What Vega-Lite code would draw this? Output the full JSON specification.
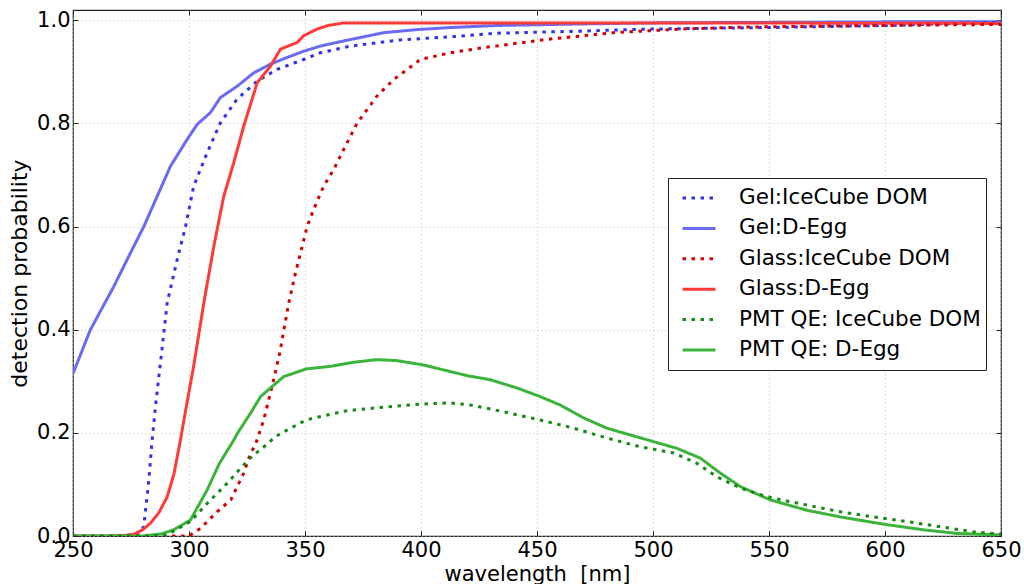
{
  "$schema": "https://vega.github.io/schema/vega-lite/v6.json",
  "width": 928,
  "height": 526,
  "autosize": "none",
  "padding": {"left": 73, "top": 10, "right": 23, "bottom": 48},
  "background": "white",
  "config": {
    "font": "DejaVu Sans",
    "view": {"stroke": "#222222", "strokeWidth": 1.2},
    "axis": {
      "labelFont": "DejaVu Sans", "titleFont": "DejaVu Sans",
      "labelFontSize": 21, "titleFontSize": 21, "titleFontWeight": "normal",
      "labelColor": "#000", "titleColor": "#000",
      "grid": true, "gridColor": "#bbbbbb", "gridDash": [1, 3], "gridWidth": 1,
      "domain": false, "tickColor": "#222", "tickSize": -5, "tickWidth": 1,
      "labelPadding": 8
    },
    "legend": {
      "orient": "none", "legendX": 595, "legendY": 168,
      "strokeColor": "#222", "fillColor": "white", "padding": 5,
      "symbolType": "stroke", "symbolSize": 1089, "symbolStrokeWidth": 3, "symbolOffset": 8,
      "clipHeight": 30,
      "labelFont": "DejaVu Sans", "labelFontSize": 21.5, "labelColor": "#000",
      "labelOffset": 22, "rowPadding": 0.4, "labelLimit": 400
    }
  },
  "data": {"values": [
    {"s":"Gel:D-Egg","wl":250,"p":0.315},{"s":"Gel:D-Egg","wl":257.5,"p":0.4},{"s":"Gel:D-Egg","wl":267.6,"p":0.484},{"s":"Gel:D-Egg","wl":274,"p":0.542},{"s":"Gel:D-Egg","wl":280.5,"p":0.6},{"s":"Gel:D-Egg","wl":286.3,"p":0.659},{"s":"Gel:D-Egg","wl":292,"p":0.717},{"s":"Gel:D-Egg","wl":299.2,"p":0.769},{"s":"Gel:D-Egg","wl":303.5,"p":0.798},{"s":"Gel:D-Egg","wl":309.2,"p":0.821},{"s":"Gel:D-Egg","wl":313.5,"p":0.85},{"s":"Gel:D-Egg","wl":320.7,"p":0.872},{"s":"Gel:D-Egg","wl":327.9,"p":0.898},{"s":"Gel:D-Egg","wl":335.1,"p":0.915},{"s":"Gel:D-Egg","wl":342.3,"p":0.928},{"s":"Gel:D-Egg","wl":349.4,"p":0.94},{"s":"Gel:D-Egg","wl":356.6,"p":0.95},{"s":"Gel:D-Egg","wl":366.7,"p":0.96},{"s":"Gel:D-Egg","wl":383.9,"p":0.976},{"s":"Gel:D-Egg","wl":398.3,"p":0.982},{"s":"Gel:D-Egg","wl":412.6,"p":0.986},{"s":"Gel:D-Egg","wl":432.8,"p":0.99},{"s":"Gel:D-Egg","wl":470,"p":0.993},{"s":"Gel:D-Egg","wl":500,"p":0.995},{"s":"Gel:D-Egg","wl":550,"p":0.996},{"s":"Gel:D-Egg","wl":600,"p":0.997},{"s":"Gel:D-Egg","wl":650,"p":0.997},

    {"s":"Gel:IceCube DOM","wl":250,"p":0},{"s":"Gel:IceCube DOM","wl":270,"p":0},{"s":"Gel:IceCube DOM","wl":278,"p":0.003},{"s":"Gel:IceCube DOM","wl":280.5,"p":0.018},{"s":"Gel:IceCube DOM","wl":282.7,"p":0.109},{"s":"Gel:IceCube DOM","wl":284.1,"p":0.186},{"s":"Gel:IceCube DOM","wl":286,"p":0.27},{"s":"Gel:IceCube DOM","wl":287.7,"p":0.336},{"s":"Gel:IceCube DOM","wl":290.6,"p":0.452},{"s":"Gel:IceCube DOM","wl":294.9,"p":0.536},{"s":"Gel:IceCube DOM","wl":298.5,"p":0.6},{"s":"Gel:IceCube DOM","wl":302,"p":0.678},{"s":"Gel:IceCube DOM","wl":307.8,"p":0.743},{"s":"Gel:IceCube DOM","wl":313.5,"p":0.801},{"s":"Gel:IceCube DOM","wl":320.7,"p":0.847},{"s":"Gel:IceCube DOM","wl":329.4,"p":0.882},{"s":"Gel:IceCube DOM","wl":338,"p":0.905},{"s":"Gel:IceCube DOM","wl":349.4,"p":0.924},{"s":"Gel:IceCube DOM","wl":356.6,"p":0.937},{"s":"Gel:IceCube DOM","wl":369.6,"p":0.95},{"s":"Gel:IceCube DOM","wl":391,"p":0.962},{"s":"Gel:IceCube DOM","wl":412.6,"p":0.968},{"s":"Gel:IceCube DOM","wl":432.8,"p":0.975},{"s":"Gel:IceCube DOM","wl":468.6,"p":0.979},{"s":"Gel:IceCube DOM","wl":497.4,"p":0.983},{"s":"Gel:IceCube DOM","wl":550,"p":0.986},{"s":"Gel:IceCube DOM","wl":600,"p":0.99},{"s":"Gel:IceCube DOM","wl":650,"p":0.996},

    {"s":"Glass:D-Egg","wl":250,"p":0},{"s":"Glass:D-Egg","wl":265,"p":0},{"s":"Glass:D-Egg","wl":272,"p":0.001},{"s":"Glass:D-Egg","wl":276,"p":0.003},{"s":"Glass:D-Egg","wl":280,"p":0.012},{"s":"Glass:D-Egg","wl":283.4,"p":0.025},{"s":"Glass:D-Egg","wl":287,"p":0.045},{"s":"Glass:D-Egg","wl":290.6,"p":0.076},{"s":"Glass:D-Egg","wl":293.5,"p":0.12},{"s":"Glass:D-Egg","wl":296.3,"p":0.186},{"s":"Glass:D-Egg","wl":299,"p":0.255},{"s":"Glass:D-Egg","wl":302,"p":0.329},{"s":"Glass:D-Egg","wl":306.4,"p":0.452},{"s":"Glass:D-Egg","wl":310.7,"p":0.562},{"s":"Glass:D-Egg","wl":315,"p":0.659},{"s":"Glass:D-Egg","wl":319.3,"p":0.724},{"s":"Glass:D-Egg","wl":323.6,"p":0.795},{"s":"Glass:D-Egg","wl":329.4,"p":0.879},{"s":"Glass:D-Egg","wl":335.1,"p":0.911},{"s":"Glass:D-Egg","wl":339.4,"p":0.944},{"s":"Glass:D-Egg","wl":346.6,"p":0.957},{"s":"Glass:D-Egg","wl":349.4,"p":0.97},{"s":"Glass:D-Egg","wl":355.2,"p":0.983},{"s":"Glass:D-Egg","wl":360,"p":0.99},{"s":"Glass:D-Egg","wl":366.7,"p":0.995},{"s":"Glass:D-Egg","wl":500,"p":0.995},{"s":"Glass:D-Egg","wl":650,"p":0.994},

    {"s":"Glass:IceCube DOM","wl":250,"p":0},{"s":"Glass:IceCube DOM","wl":300,"p":0},{"s":"Glass:IceCube DOM","wl":305,"p":0.015},{"s":"Glass:IceCube DOM","wl":312.1,"p":0.047},{"s":"Glass:IceCube DOM","wl":318,"p":0.07},{"s":"Glass:IceCube DOM","wl":323.6,"p":0.122},{"s":"Glass:IceCube DOM","wl":326.5,"p":0.16},{"s":"Glass:IceCube DOM","wl":328.6,"p":0.177},{"s":"Glass:IceCube DOM","wl":332.2,"p":0.225},{"s":"Glass:IceCube DOM","wl":335.8,"p":0.29},{"s":"Glass:IceCube DOM","wl":339.1,"p":0.355},{"s":"Glass:IceCube DOM","wl":343,"p":0.452},{"s":"Glass:IceCube DOM","wl":345.9,"p":0.51},{"s":"Glass:IceCube DOM","wl":348.8,"p":0.562},{"s":"Glass:IceCube DOM","wl":350.9,"p":0.6},{"s":"Glass:IceCube DOM","wl":353.7,"p":0.633},{"s":"Glass:IceCube DOM","wl":358,"p":0.678},{"s":"Glass:IceCube DOM","wl":362.4,"p":0.711},{"s":"Glass:IceCube DOM","wl":366.7,"p":0.75},{"s":"Glass:IceCube DOM","wl":372.4,"p":0.8},{"s":"Glass:IceCube DOM","wl":381,"p":0.853},{"s":"Glass:IceCube DOM","wl":388.2,"p":0.885},{"s":"Glass:IceCube DOM","wl":399.7,"p":0.924},{"s":"Glass:IceCube DOM","wl":412.6,"p":0.937},{"s":"Glass:IceCube DOM","wl":427,"p":0.947},{"s":"Glass:IceCube DOM","wl":454.3,"p":0.963},{"s":"Glass:IceCube DOM","wl":483,"p":0.976},{"s":"Glass:IceCube DOM","wl":511.7,"p":0.983},{"s":"Glass:IceCube DOM","wl":540.5,"p":0.987},{"s":"Glass:IceCube DOM","wl":600,"p":0.99},{"s":"Glass:IceCube DOM","wl":650,"p":0.992},

    {"s":"PMT QE: D-Egg","wl":250,"p":0},{"s":"PMT QE: D-Egg","wl":280,"p":0},{"s":"PMT QE: D-Egg","wl":288,"p":0.004},{"s":"PMT QE: D-Egg","wl":293.4,"p":0.012},{"s":"PMT QE: D-Egg","wl":300.6,"p":0.031},{"s":"PMT QE: D-Egg","wl":307.8,"p":0.089},{"s":"PMT QE: D-Egg","wl":313,"p":0.14},{"s":"PMT QE: D-Egg","wl":319.3,"p":0.186},{"s":"PMT QE: D-Egg","wl":321,"p":0.2},{"s":"PMT QE: D-Egg","wl":326.5,"p":0.238},{"s":"PMT QE: D-Egg","wl":330.8,"p":0.27},{"s":"PMT QE: D-Egg","wl":335.1,"p":0.287},{"s":"PMT QE: D-Egg","wl":340.8,"p":0.309},{"s":"PMT QE: D-Egg","wl":350.5,"p":0.324},{"s":"PMT QE: D-Egg","wl":361,"p":0.329},{"s":"PMT QE: D-Egg","wl":371,"p":0.337},{"s":"PMT QE: D-Egg","wl":381,"p":0.342},{"s":"PMT QE: D-Egg","wl":389.7,"p":0.34},{"s":"PMT QE: D-Egg","wl":400.7,"p":0.332},{"s":"PMT QE: D-Egg","wl":409.8,"p":0.322},{"s":"PMT QE: D-Egg","wl":419.8,"p":0.311},{"s":"PMT QE: D-Egg","wl":429.9,"p":0.303},{"s":"PMT QE: D-Egg","wl":441.4,"p":0.287},{"s":"PMT QE: D-Egg","wl":451,"p":0.271},{"s":"PMT QE: D-Egg","wl":460,"p":0.254},{"s":"PMT QE: D-Egg","wl":470.1,"p":0.229},{"s":"PMT QE: D-Egg","wl":480.2,"p":0.209},{"s":"PMT QE: D-Egg","wl":490.2,"p":0.196},{"s":"PMT QE: D-Egg","wl":500.2,"p":0.183},{"s":"PMT QE: D-Egg","wl":510.3,"p":0.17},{"s":"PMT QE: D-Egg","wl":520.4,"p":0.151},{"s":"PMT QE: D-Egg","wl":529,"p":0.122},{"s":"PMT QE: D-Egg","wl":537.6,"p":0.096},{"s":"PMT QE: D-Egg","wl":550.5,"p":0.07},{"s":"PMT QE: D-Egg","wl":566.3,"p":0.05},{"s":"PMT QE: D-Egg","wl":580.7,"p":0.037},{"s":"PMT QE: D-Egg","wl":599.3,"p":0.023},{"s":"PMT QE: D-Egg","wl":616.6,"p":0.012},{"s":"PMT QE: D-Egg","wl":630.9,"p":0.005},{"s":"PMT QE: D-Egg","wl":650,"p":0.002},

    {"s":"PMT QE: IceCube DOM","wl":250,"p":0},{"s":"PMT QE: IceCube DOM","wl":280,"p":0},{"s":"PMT QE: IceCube DOM","wl":290.6,"p":0.002},{"s":"PMT QE: IceCube DOM","wl":300.6,"p":0.028},{"s":"PMT QE: IceCube DOM","wl":307.8,"p":0.063},{"s":"PMT QE: IceCube DOM","wl":316.4,"p":0.102},{"s":"PMT QE: IceCube DOM","wl":322,"p":0.13},{"s":"PMT QE: IceCube DOM","wl":327.9,"p":0.158},{"s":"PMT QE: IceCube DOM","wl":330.8,"p":0.167},{"s":"PMT QE: IceCube DOM","wl":337.3,"p":0.193},{"s":"PMT QE: IceCube DOM","wl":343.7,"p":0.209},{"s":"PMT QE: IceCube DOM","wl":350.5,"p":0.225},{"s":"PMT QE: IceCube DOM","wl":358,"p":0.233},{"s":"PMT QE: IceCube DOM","wl":368.1,"p":0.243},{"s":"PMT QE: IceCube DOM","wl":379.6,"p":0.248},{"s":"PMT QE: IceCube DOM","wl":389.7,"p":0.252},{"s":"PMT QE: IceCube DOM","wl":400.7,"p":0.256},{"s":"PMT QE: IceCube DOM","wl":412.6,"p":0.258},{"s":"PMT QE: IceCube DOM","wl":421.3,"p":0.254},{"s":"PMT QE: IceCube DOM","wl":431.3,"p":0.245},{"s":"PMT QE: IceCube DOM","wl":441.4,"p":0.235},{"s":"PMT QE: IceCube DOM","wl":451.4,"p":0.225},{"s":"PMT QE: IceCube DOM","wl":465.8,"p":0.209},{"s":"PMT QE: IceCube DOM","wl":480.2,"p":0.19},{"s":"PMT QE: IceCube DOM","wl":494.5,"p":0.173},{"s":"PMT QE: IceCube DOM","wl":508.9,"p":0.161},{"s":"PMT QE: IceCube DOM","wl":518.9,"p":0.141},{"s":"PMT QE: IceCube DOM","wl":527.5,"p":0.115},{"s":"PMT QE: IceCube DOM","wl":537.6,"p":0.093},{"s":"PMT QE: IceCube DOM","wl":549.1,"p":0.076},{"s":"PMT QE: IceCube DOM","wl":566.3,"p":0.06},{"s":"PMT QE: IceCube DOM","wl":580.7,"p":0.047},{"s":"PMT QE: IceCube DOM","wl":595,"p":0.037},{"s":"PMT QE: IceCube DOM","wl":609.4,"p":0.028},{"s":"PMT QE: IceCube DOM","wl":623.8,"p":0.018},{"s":"PMT QE: IceCube DOM","wl":638.1,"p":0.008},{"s":"PMT QE: IceCube DOM","wl":650,"p":0.004}
  ]},
  "resolve": {"axis": {"x": "independent", "y": "independent"}},
  "layer": [
    {
      "mark": {"type": "line", "strokeWidth": 3, "strokeCap": "butt", "clip": true},
      "encoding": {
        "x": {"field": "wl", "type": "quantitative",
          "scale": {"domain": [250, 650], "nice": false, "zero": false},
          "axis": {"orient": "bottom", "values": [250,300,350,400,450,500,550,600,650], "labelFlush": false, "title": "wavelength\u00a0 [nm]", "titlePadding": 3}},
        "y": {"field": "p", "type": "quantitative",
          "scale": {"domain": [0, 1.02], "nice": false},
          "axis": {"orient": "left", "values": [0,0.2,0.4,0.6,0.8,1.0], "format": ".1f", "labelFlush": false, "title": "detection probability", "titleFontSize": 22, "titlePadding": 5}},
        "color": {"field": "s", "type": "nominal", "title": null,
          "scale": {"domain": ["Gel:IceCube DOM","Gel:D-Egg","Glass:IceCube DOM","Glass:D-Egg","PMT QE: IceCube DOM","PMT QE: D-Egg"],
            "range": ["#3232e6","#6b6bf2","#d40000","#ff3a3a","#178a17","#3cb43c"]}},
        "strokeDash": {"field": "s", "type": "nominal", "title": null,
          "scale": {"domain": ["Gel:IceCube DOM","Gel:D-Egg","Glass:IceCube DOM","Glass:D-Egg","PMT QE: IceCube DOM","PMT QE: D-Egg"],
            "range": [[3.5,5.5],[1,0],[3.5,5.5],[1,0],[3.5,5.5],[1,0]]}},
        "order": {"field": "wl", "type": "quantitative"}
      }
    },
    {
      "mark": {"type": "point", "opacity": 0},
      "encoding": {
        "x": {"field": "wl", "type": "quantitative",
          "axis": {"orient": "top", "values": [250,300,350,400,450,500,550,600,650], "labels": false, "grid": false, "title": null}},
        "y": {"field": "p", "type": "quantitative",
          "axis": {"orient": "right", "values": [0,0.2,0.4,0.6,0.8,1.0], "labels": false, "grid": false, "title": null}}
      }
    }
  ]
}
